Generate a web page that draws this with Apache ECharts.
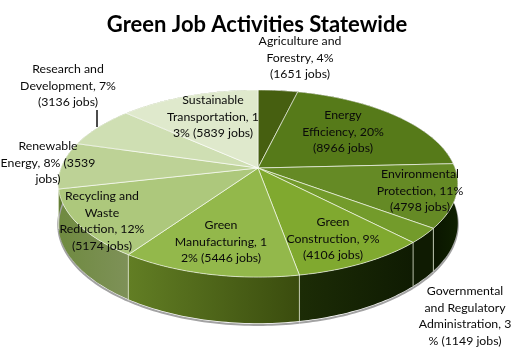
<!DOCTYPE html>
<html><head><meta charset="utf-8">
<style>html,body{margin:0;padding:0;background:#fff}#c{width:516px;height:358px}</style>
<script src="https://cdn.jsdelivr.net/npm/echarts@6/dist/echarts.min.js"></script>
</head><body><div id="c"></div>
<script>
const categories = ['Agriculture and Forestry','Energy Efficiency','Environmental Protection','Governmental and Regulatory Administration','Green Construction','Green Manufacturing','Recycling and Waste Reduction','Renewable Energy','Research and Development','Sustainable Transportation'];
const jobs = [1651,8966,4798,1149,4106,5446,5174,3539,3136,5839];
const labelTexts = [
 'Agriculture and\nForestry, 4%\n(1651 jobs)',
 'Energy\nEfficiency, 20%\n(8966 jobs)',
 'Environmental\nProtection, 11%\n(4798 jobs)',
 'Governmental\nand Regulatory\nAdministration, 3\n% (1149 jobs)',
 'Green\nConstruction, 9%\n(4106 jobs)',
 'Green\nManufacturing, 1\n2% (5446 jobs)',
 'Recycling and\nWaste\nReduction, 12%\n(5174 jobs)',
 'Renewable\nEnergy, 8% (3539\njobs)',
 'Research and\nDevelopment, 7%\n(3136 jobs)',
 'Sustainable\nTransportation, 1\n3% (5839 jobs)'];
const labelAnchors = [[300,58],[343,132],[420,191],[465,316],[333,239],[221,242],[102,221],[48,163],[68,86],[213,117]];
const faceColors = ['#465f10','#567a19','#658a25','#739b2b','#80a92f','#93b84b','#adc87c','#bdd296','#cfdfb3','#dfe9cc'];
const sideColors = [['#0a1500','#0a1500'],['#0a1500','#0a1500'],['#0f2000','#0a1500'],['#0f1b02','#0f1b02'],['#0f1b02','#1c2c06'],['#3a4c0e','#627e24'],['#7e9158','#6f8a40'],['#5f7a30','#5f7a30'],['#5f7a30','#5f7a30'],['#5f7a30','#5f7a30']];

const CX=258, CY=168, A=197, B=91, K=0.166, DEPTH=38.4;
const total = jobs.reduce((s,v)=>s+v,0);
const starts = []; jobs.reduce((s,v,i)=>{starts[i]=s; return s+v;},0);
function proj(theta,depth){
  const X=Math.sin(theta), Y=Math.cos(theta), w=1+K*Y;
  return [CX+A*X/w, CY+(-B*Y+(depth||0))/w];
}
function arc(i,depth,rev){
  const a0=starts[i]/total*2*Math.PI, a1=(starts[i]+jobs[i])/total*2*Math.PI;
  const n=Math.max(4,Math.ceil((a1-a0)/0.02)), p=[];
  for(let k=0;k<=n;k++) p.push(proj(a0+(a1-a0)*k/n,depth));
  return rev?p.reverse():p;
}
const seriesData = jobs.map((v,i)=>({name:categories[i],value:v}));
const common = {type:'custom',coordinateSystem:'none',silent:true,animation:false,data:seriesData};

const option = {
  animation:false,
  backgroundColor:'#fff',
  title:{text:'Green Job Activities Statewide',left:252,top:9,textAlign:'center',
    textStyle:{fontFamily:'Lato',fontWeight:'bold',fontSize:22,color:'#000'}},
  series:[
    Object.assign({},common,{renderItem:(params)=>{
      const i=params.dataIndex;
      const top=arc(i,0), bot=arc(i,DEPTH,true);
      const rim=arc(i,DEPTH+1.5);
      return {type:'group',children:[
        {type:'polyline',shape:{points:rim},style:{fill:null,stroke:'#a3a3a3',lineWidth:2}},
        {type:'polygon',shape:{points:top.concat(bot)},style:{
          fill:new echarts.graphic.LinearGradient(0,0,1,0,[{offset:0,color:sideColors[i][1]},{offset:1,color:sideColors[i][0]}])}},
        {type:'line',shape:{x1:top[0][0],y1:top[0][1],x2:bot[bot.length-1][0],y2:bot[bot.length-1][1]},
          style:{stroke:'rgba(225,232,210,.75)',lineWidth:1}}
      ]};
    }}),
    Object.assign({},common,{renderItem:(params)=>{
      const i=params.dataIndex;
      return {type:'polygon',shape:{points:[[CX,CY]].concat(arc(i,0))},
        style:{fill:faceColors[i],stroke:'rgba(255,255,255,.6)',lineWidth:1}};
    }}),
    Object.assign({},common,{z:5,renderItem:(params)=>{
      const i=params.dataIndex;
      return {type:'text',x:labelAnchors[i][0],y:labelAnchors[i][1],style:{
        text:labelTexts[i],fill:'#0a0a0a',font:'12.3px Lato',align:'center',verticalAlign:'middle',lineHeight:16.5}};
    }})
  ],
  graphic:[{type:'line',z:10,shape:{x1:97,y1:110,x2:97,y2:127},style:{stroke:'#111',lineWidth:1.5}}]
};
echarts.init(document.getElementById('c'),null,{renderer:'canvas'}).setOption(option);
</script></body></html>
